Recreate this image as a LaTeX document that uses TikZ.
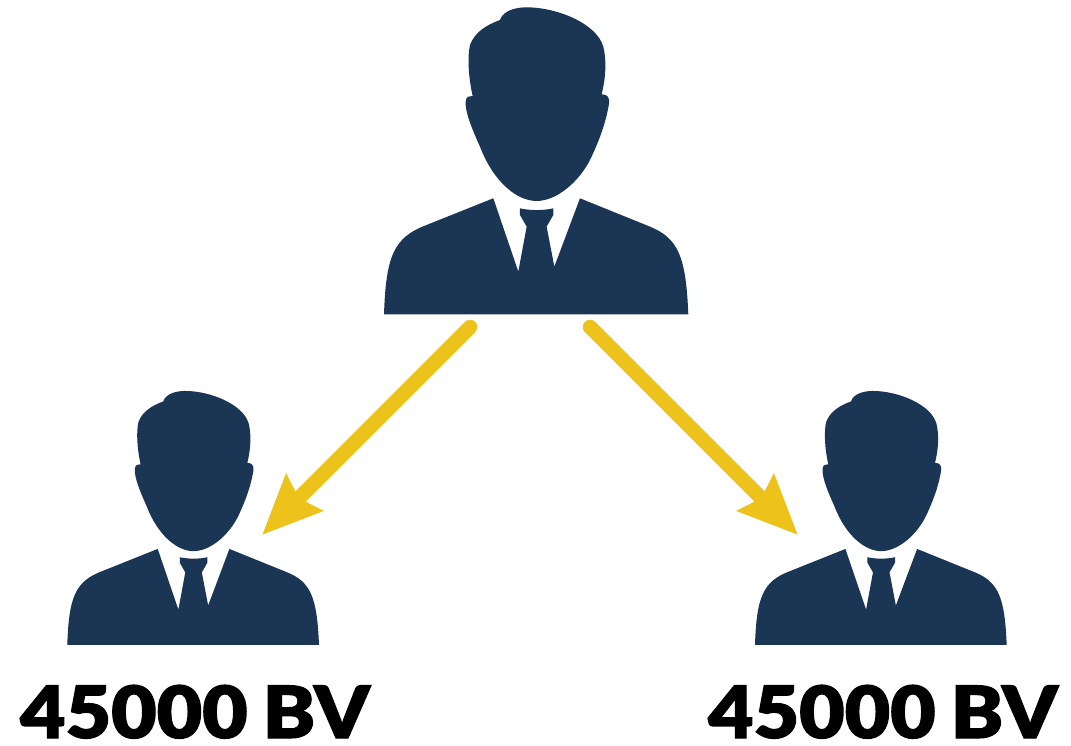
\documentclass[tikz,border=0pt]{standalone}
\usepackage{fontspec}
\usetikzlibrary{arrows.meta}
\newfontfamily\lab{Lato Black}[FakeStretch=1.09,FakeBold=1.6]
\definecolor{navy}{HTML}{1B3555}
\definecolor{gold}{HTML}{EDC31B}
\tikzset{
  personpic/.pic={
    \fill[navy] (390,60) .. controls (400,30) and (440,22) .. (470,22)
      .. controls (560,22) and (680,70) .. (700,140)
      .. controls (710,180) and (708,230) .. (695,283)
      .. controls (710,283) and (720,290) .. (717,312)
      .. controls (705,380) and (685,425) .. (665,470)
      .. controls (630,545) and (560,603) .. (500,603)
      .. controls (440,603) and (370,545) .. (330,440)
      .. controls (305,385) and (285,335) .. (287,305)
      .. controls (288,288) and (300,288) .. (308,288)
      .. controls (295,230) and (292,170) .. (300,135)
      .. controls (315,95) and (350,75) .. (390,60) -- cycle;
    \fill[navy] (370,595) -- (170,675)
      .. controls (70,712) and (48,770) .. (42,943)
      -- (955,943)
      .. controls (948,770) and (925,715) .. (840,680)
      -- (630,595) -- (553,800) -- (530,680) -- (550,645) -- (550,625)
      .. controls (520,632) and (480,632) .. (450,625)
      -- (450,645) -- (470,680) -- (445,815) -- cycle;
  },
  linkarrow/.style={draw=gold, line width=14.5pt, line cap=round,
    -{Stealth[length=59pt,width=50pt,inset=7pt,fill=gold]}},
  bvlabel/.style={anchor=base, inner sep=0pt, text=black,
    font=\lab\fontsize{72}{80}\selectfont}
}
\begin{document}
\begin{tikzpicture}[x=1pt,y=-1pt]
\useasboundingbox (0,0) rectangle (1071,746);
\fill[white] (0,0) rectangle (1071,746);
\pic[shift={(370,0)},scale=0.3333] {personpic};
\pic[shift={(55.7,384.9)},scale=0.2757] {personpic};
\pic[shift={(743.4,384.9)},scale=0.2757] {personpic};
\coordinate (topL) at (470,327);
\coordinate (topR) at (590,327);
\coordinate (tipL) at (262,535);
\coordinate (tipR) at (798,535);
\draw[linkarrow] (topL) -- (tipL);
\draw[linkarrow] (topR) -- (tipR);
\node[bvlabel] (bvL) at (195,738) {45000\hspace{15pt}BV};
\node[bvlabel] (bvR) at (883,738) {45000\hspace{15pt}BV};
\end{tikzpicture}
\end{document}
